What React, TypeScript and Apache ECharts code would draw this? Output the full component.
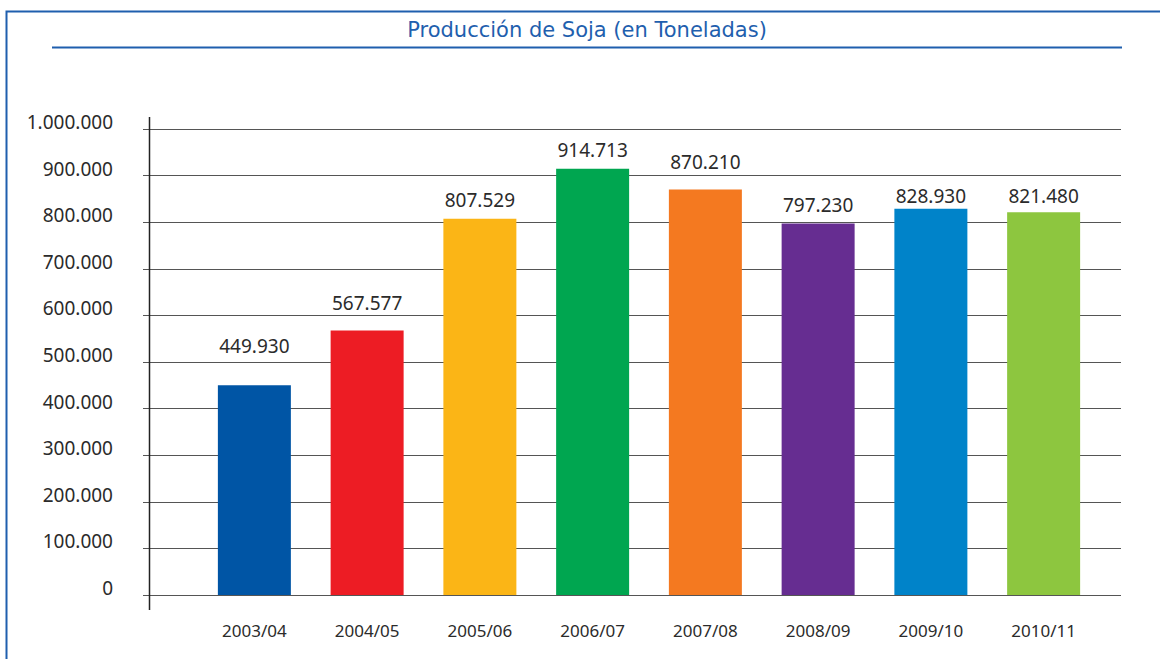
import React, { useEffect, useRef } from "react";
import * as echarts from "echarts";

const TITLE = "Producción de Soja (en Toneladas)";
const CATEGORIES = ["2003/04", "2004/05", "2005/06", "2006/07", "2007/08", "2008/09", "2009/10", "2010/11"];
const VALUES = [449930, 567577, 807529, 914713, 870210, 797230, 828930, 821480];
const COLORS = ["#0055a5", "#ed1c24", "#fbb516", "#00a650", "#f47920", "#662d91", "#0083c9", "#8dc63f"];
const Y_MIN = 0;
const Y_MAX = 1000000;
const Y_STEP = 100000;
// style: label gap above each bar (px)
const LABEL_GAP = [29, 18, 9, 9, 17, 8, 3, 6];

const fmt = (v: number) => String(Math.round(v)).replace(/\B(?=(\d{3})+(?!\d))/g, ".");

const BLUE = "#1f5fae";
const TEXT = "#2b2b2b";
const GRID = "#555555";

export default function App() {
  const ref = useRef<HTMLDivElement>(null);
  useEffect(() => {
    if (!ref.current) return;
    const chart = echarts.init(ref.current, undefined, { renderer: "svg" });
    const option: any = {
      animation: false,
      backgroundColor: "#ffffff",
      graphic: [
        {
          type: "polyline",
          shape: { points: [[6.5, 659], [6.5, 11.5], [1160, 11.5]] },
          style: { stroke: BLUE, lineWidth: 2, fill: "none" },
          z: 10,
        },
        {
          type: "line",
          shape: { x1: 52, y1: 47.5, x2: 1122, y2: 47.5 },
          style: { stroke: BLUE, lineWidth: 2 },
          z: 10,
        },
        {
          type: "text",
          x: 587,
          y: 30,
          style: {
            text: TITLE,
            fill: BLUE,
            font: '21px "DejaVu Sans"',
            textAlign: "center",
            textVerticalAlign: "middle",
          },
          z: 10,
        },
        {
          type: "line",
          shape: { x1: 149.5, y1: 117, x2: 149.5, y2: 610 },
          style: { stroke: "#222222", lineWidth: 1.5 },
          z: 10,
        },
      ],
      grid: [
        { left: 149, right: 39, top: 129, bottom: 64 },
        { left: 198, right: 60, top: 129, bottom: 64 },
      ],
      xAxis: [
        { gridIndex: 0, type: "value", show: false, min: 0, max: 1 },
        {
          gridIndex: 1,
          type: "category",
          data: CATEGORIES,
          axisLine: { show: false },
          axisTick: { show: false },
          axisLabel: {
            color: TEXT,
            fontFamily: "Noto Sans",
            fontSize: 17,
            margin: 27,
            lineHeight: 17,
            verticalAlign: "top",
            interval: 0,
          },
        },
      ],
      yAxis: [
        {
          gridIndex: 0,
          type: "value",
          min: Y_MIN,
          max: Y_MAX,
          interval: Y_STEP,
          axisLine: { show: false },
          axisTick: { show: true, length: 6, lineStyle: { color: GRID, width: 1 } },
          splitLine: { show: true, lineStyle: { color: GRID, width: 1 } },
          axisLabel: {
            color: TEXT,
            fontFamily: "Noto Sans",
            fontSize: 19,
            margin: 36,
            lineHeight: 14,
            verticalAlign: "bottom",
            formatter: (v: number) => fmt(v),
          },
        },
        { gridIndex: 1, type: "value", min: Y_MIN, max: Y_MAX, show: false, splitLine: { show: false } },
      ],
      series: [
        {
          type: "bar",
          xAxisIndex: 1,
          yAxisIndex: 1,
          barWidth: 73,
          data: VALUES.map((v, i) => ({
            value: v,
            itemStyle: { color: COLORS[i] },
            label: { distance: LABEL_GAP[i] },
          })),
          label: {
            show: true,
            position: "top",
            color: TEXT,
            fontFamily: "Noto Sans",
            fontSize: 19,
            lineHeight: 20,
            formatter: (p: any) => fmt(p.value),
          },
        },
      ],
    };
    chart.setOption(option);
    return () => chart.dispose();
  }, []);
  return (
    <div
      ref={ref}
      style={{ position: "fixed", left: 0, top: 0, width: 1160, height: 659 }}
    />
  );
}
